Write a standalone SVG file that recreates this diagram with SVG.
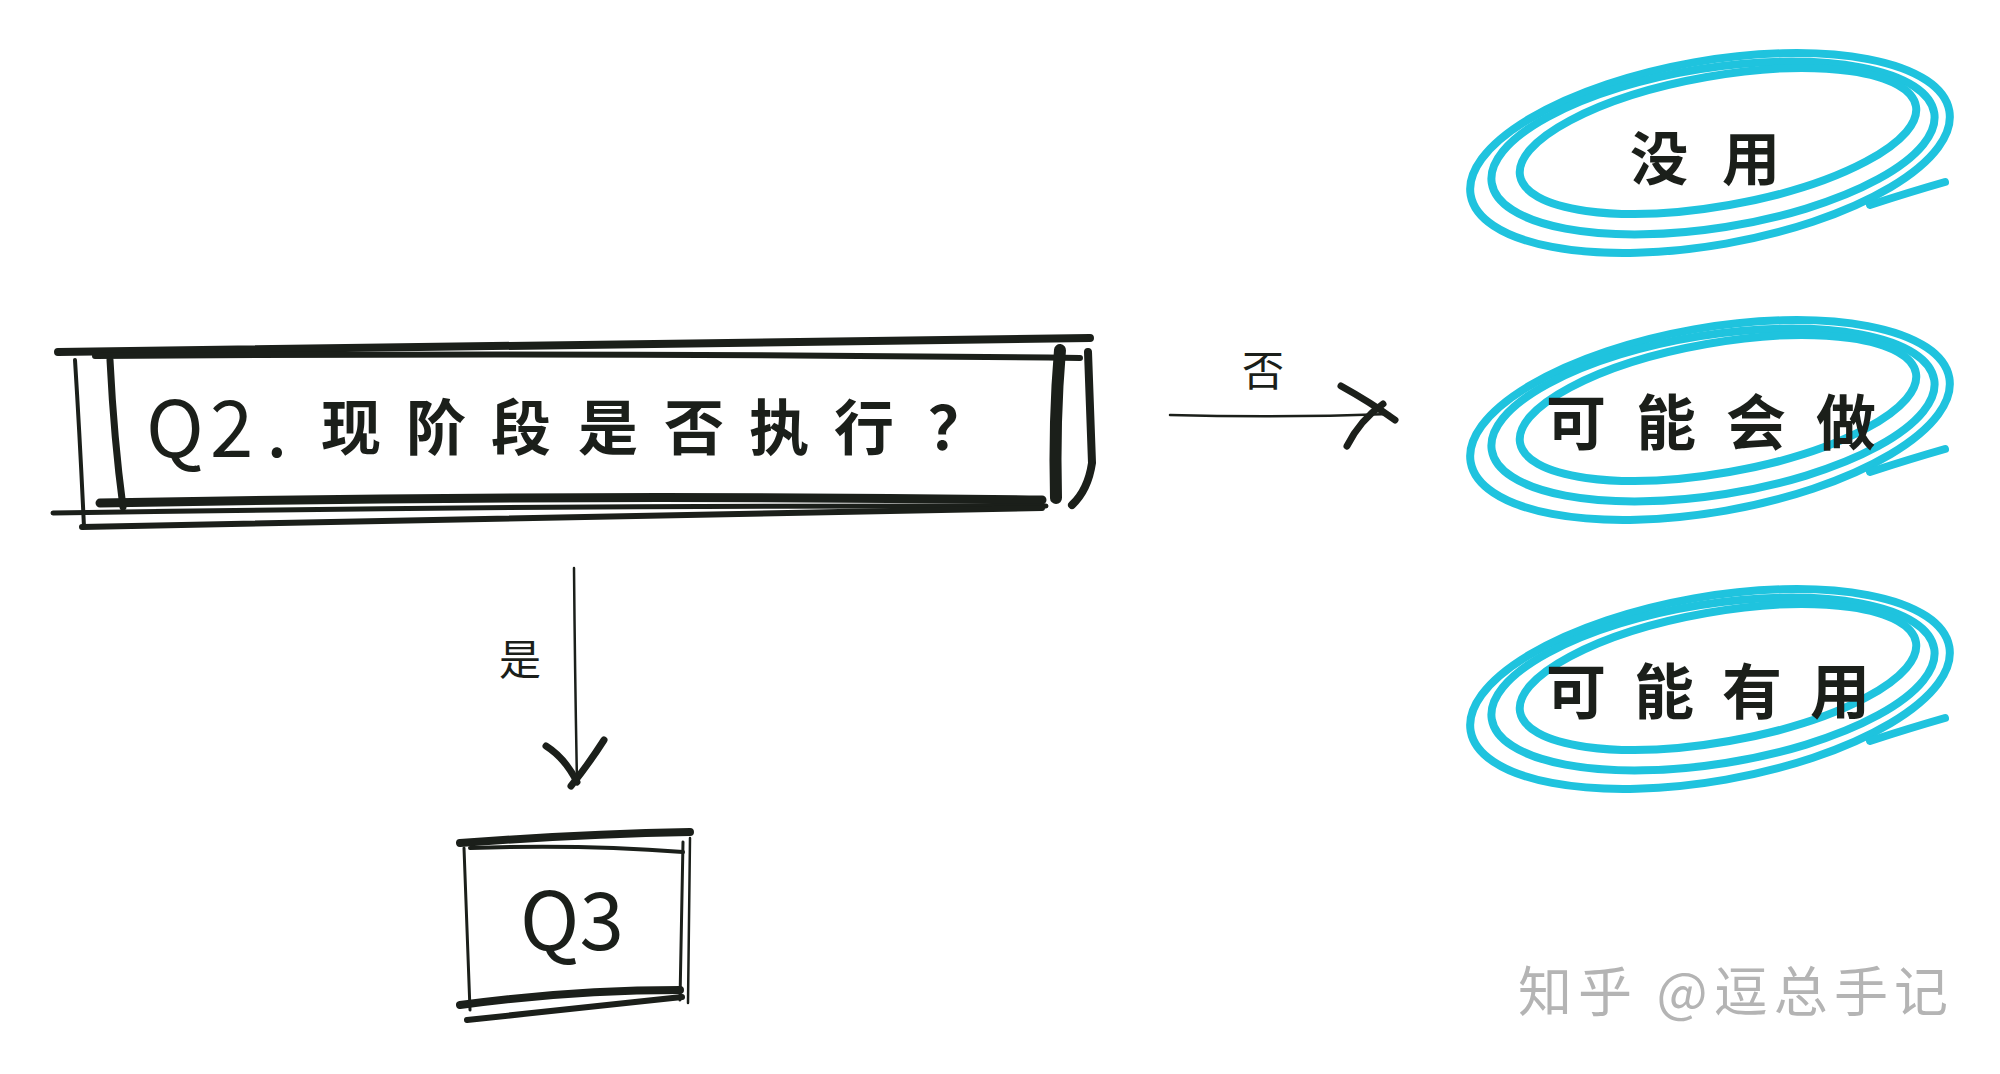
<svg xmlns="http://www.w3.org/2000/svg" width="2000" height="1074" viewBox="0 0 2000 1074">
<style>
.ink{fill:none;stroke:#1b1f1a;stroke-linecap:round;stroke-linejoin:round}
.loop{fill:none;stroke:#1fc3de;stroke-width:8;stroke-linecap:round}
.t{font-family:"Noto Sans CJK SC","Noto Sans",sans-serif;fill:#1b1f1a}
.cj{font-family:"Noto Sans CJK SC",sans-serif;fill:#1b1f1a;font-weight:700}
.lbl{font-family:"Noto Sans CJK SC","Noto Sans",sans-serif;fill:#1b1f1a;font-size:42px}
</style>
<rect width="2000" height="1074" fill="#ffffff"/>
<g id="connectors">
  <path class="ink" stroke-width="2.5" d="M574 568 Q575 680 577 782"/>
  <path class="ink" stroke-width="7" d="M546 746 Q565 758 577 782 M604 740 Q588 765 571 786"/>
  <path class="ink" stroke-width="2.5" d="M1170 415 Q1280 418 1390 414"/>
  <path class="ink" stroke-width="7" d="M1341 386 Q1370 402 1395 420 M1383 404 Q1360 420 1347 446"/>
  <text class="lbl" x="520" y="675" text-anchor="middle">是</text>
  <text class="lbl" x="1263" y="386" text-anchor="middle">否</text>
</g>
<g id="q2">
  <path class="ink" stroke-width="8" d="M58 352 Q560 344 1090 338"/>
  <path class="ink" stroke-width="6" d="M95 356 Q600 352 1080 358"/>
  <path class="ink" stroke-width="4" d="M75 360 Q80 440 84 527"/>
  <path class="ink" stroke-width="7" d="M110 360 Q114 440 123 507"/>
  <path class="ink" stroke-width="12" d="M1060 350 Q1054 420 1056 498"/>
  <path class="ink" stroke-width="8" d="M1088 352 Q1090 410 1092 463 Q1088 490 1072 505"/>
  <path class="ink" stroke-width="9" d="M100 503 Q560 494 1042 500"/>
  <path class="ink" stroke-width="5" d="M53 513 Q560 505 1046 506"/>
  <path class="ink" stroke-width="6" d="M82 527 Q560 518 1042 508"/>
  <text class="t" y="457" font-size="78" font-family="Noto Sans, sans-serif"><tspan x="146">Q</tspan><tspan x="210">2</tspan><tspan x="266">.</tspan></text>
  <text class="cj" y="450" font-size="60"><tspan x="321">现</tspan><tspan x="406">阶</tspan><tspan x="491">段</tspan><tspan x="578">是</tspan><tspan x="664">否</tspan><tspan x="749">执</tspan><tspan x="834">行</tspan><tspan x="928">？</tspan></text>
</g>
<g id="q3">
  <path class="ink" stroke-width="8" d="M460 843 Q580 834 690 832"/>
  <path class="ink" stroke-width="4" d="M470 848 Q580 844 683 852"/>
  <path class="ink" stroke-width="3" d="M464 848 L470 1010"/>
  <path class="ink" stroke-width="3" d="M683 842 L680 1000"/>
  <path class="ink" stroke-width="2.5" d="M690 838 L688 1003"/>
  <path class="ink" stroke-width="8" d="M460 1005 Q570 990 680 990"/>
  <path class="ink" stroke-width="6" d="M467 1020 Q580 1008 682 997"/>
  <text class="t" x="572" y="950" font-size="80" text-anchor="middle" font-family="Noto Sans, sans-serif">Q3</text>
</g>
<g id="meiyong">
  <ellipse class="loop" cx="1710" cy="153" rx="243" ry="92" transform="rotate(-10 1710 153)"/>
  <ellipse class="loop" cx="1713" cy="148" rx="224" ry="80" transform="rotate(-9 1713 148)"/>
  <ellipse class="loop" cx="1718" cy="141" rx="201" ry="65" transform="rotate(-10 1718 141)"/>
  <path class="loop" d="M1870 205 Q1910 192 1945 182"/>
  <text class="cj" y="180" font-size="58"><tspan x="1630">没</tspan><tspan x="1722">用</tspan></text>
</g>
<g id="kenenghuizuo">
  <ellipse class="loop" cx="1710" cy="420" rx="243" ry="92" transform="rotate(-10 1710 420)"/>
  <ellipse class="loop" cx="1713" cy="415" rx="224" ry="80" transform="rotate(-9 1713 415)"/>
  <ellipse class="loop" cx="1718" cy="408" rx="201" ry="65" transform="rotate(-10 1718 408)"/>
  <path class="loop" d="M1870 472 Q1910 459 1945 449"/>
  <text class="cj" y="445" font-size="60"><tspan x="1546">可</tspan><tspan x="1636">能</tspan><tspan x="1726">会</tspan><tspan x="1816">做</tspan></text>
</g>
<g id="kenengyouyong">
  <ellipse class="loop" cx="1710" cy="689" rx="243" ry="92" transform="rotate(-10 1710 689)"/>
  <ellipse class="loop" cx="1713" cy="684" rx="224" ry="80" transform="rotate(-9 1713 684)"/>
  <ellipse class="loop" cx="1718" cy="677" rx="201" ry="65" transform="rotate(-10 1718 677)"/>
  <path class="loop" d="M1870 741 Q1910 728 1945 718"/>
  <text class="cj" y="714" font-size="60"><tspan x="1546">可</tspan><tspan x="1634">能</tspan><tspan x="1722">有</tspan><tspan x="1810">用</tspan></text>
</g>
<text x="1518" y="1012" font-family="Noto Sans CJK SC, sans-serif" font-size="54" fill="#b4b4b4" textLength="430" lengthAdjust="spacing">知乎 @逗总手记</text>
</svg>
